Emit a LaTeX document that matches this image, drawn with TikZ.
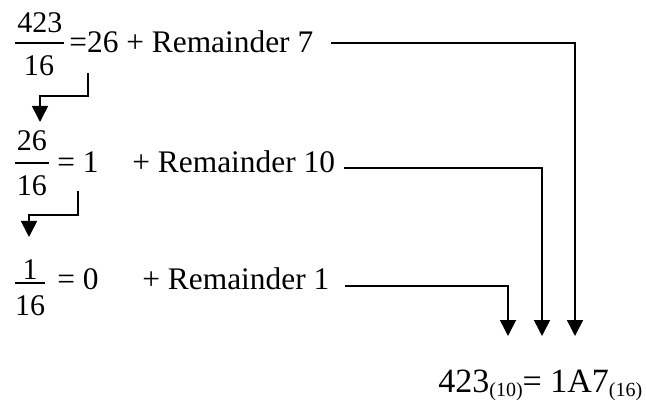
\documentclass[tikz,border=0pt]{standalone}
\usepackage{fontspec}
\setmainfont{Liberation Serif}
\usetikzlibrary{arrows.meta}

\begin{document}
\begin{tikzpicture}[x=0.5pt, y=-0.5pt, inner sep=0pt,
    txt/.style={anchor=base west, font=\fontsize{15.7}{18}\selectfont},
    num/.style={anchor=base, font=\fontsize{15}{18}\selectfont},
    bar/.style={line width=0.6pt},
    link/.style={line width=0.8pt, -{Triangle[length=8pt, width=8pt]}}]
  \useasboundingbox (0,0) rectangle (646,400);

  	\node (n1) at (40,33) [num] {423};
  	\node (d1) at (39,76) [num] {16};
  	\node (r1) at (69,53) [txt] {=26 + Remainder 7};

  	\node (n2) at (32,151) [num] {26};
  	\node (d2) at (32,196) [num] {16};
  	\node (e2) at (57,173) [txt] {= 1};
  	\node (r2) at (132,173) [txt] {+ Remainder 10};

  	\node (n3) at (30,279) [num] {1};
  	\node (d3) at (30,315) [num] {16};
  	\node (e3) at (57,289) [txt] {= 0};
  	\node (r3) at (142,289) [txt] {+ Remainder 1};

  	\node (res) at (438,392) [anchor=base west, font=\fontsize{17}{20}\selectfont]
  	  {423\raisebox{-2pt}{\fontsize{10}{10}\selectfont(10)}= 1A7\raisebox{-2pt}{\fontsize{10}{10}\selectfont(16)}};

  \draw[bar] (15,43) -- (64,43);
  \draw[bar] (15,163) -- (49,163);
  \draw[bar] (15,283) -- (45,283);

  \coordinate (t1) at (575,336);
  \coordinate (t2) at (542,336);
  \coordinate (t3) at (508,336);

  \draw[link] ([shift={(17,-10)}]r1.base east) -| (t1);
  \draw[link] ([shift={(9,-5)}]r2.base east) -| (t2);
  \draw[link] ([shift={(15,-3)}]r3.base east) -| (t3);

  \draw[link] ([shift={(19,20)}]r1.base west) -- ++(0,23) -- ++(-48,0) -- ++(0,26);
  \draw[link] ([shift={(21,18)}]e2.base west) -- ++(0,24) -- ++(-49,0) -- ++(0,22);
\end{tikzpicture}
\end{document}
